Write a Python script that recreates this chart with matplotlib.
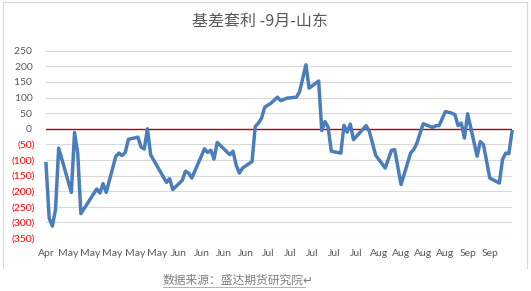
import numpy as np
import pandas as pd
import matplotlib as mpl
mpl.use('Agg')
import matplotlib.pyplot as plt
import matplotlib.dates as mdates
from matplotlib.lines import Line2D

mpl.rc('font', family=['Lato', 'Noto Sans CJK SC', 'DejaVu Sans'])

#%% data
dates = ['2017-04-24', '2017-04-25', '2017-04-26', '2017-04-27', '2017-04-28',
         '2017-05-02', '2017-05-03', '2017-05-04', '2017-05-05', '2017-05-10',
         '2017-05-11', '2017-05-12', '2017-05-13', '2017-05-16', '2017-05-17',
         '2017-05-18', '2017-05-19', '2017-05-20', '2017-05-23', '2017-05-24',
         '2017-05-25', '2017-05-26', '2017-05-27', '2017-06-01', '2017-06-02',
         '2017-06-03', '2017-06-06', '2017-06-07', '2017-06-08', '2017-06-09',
         '2017-06-13', '2017-06-14', '2017-06-15', '2017-06-16', '2017-06-17',
         '2017-06-21', '2017-06-22', '2017-06-23', '2017-06-24', '2017-06-25',
         '2017-06-28', '2017-06-29', '2017-06-30', '2017-07-01', '2017-07-02',
         '2017-07-04', '2017-07-06', '2017-07-07', '2017-07-09', '2017-07-12',
         '2017-07-13', '2017-07-15', '2017-07-16', '2017-07-19', '2017-07-20',
         '2017-07-21', '2017-07-22', '2017-07-23', '2017-07-26', '2017-07-27',
         '2017-07-28', '2017-07-29', '2017-07-30', '2017-08-03', '2017-08-04',
         '2017-08-06', '2017-08-09', '2017-08-11', '2017-08-12', '2017-08-14',
         '2017-08-17', '2017-08-18', '2017-08-19', '2017-08-21', '2017-08-24',
         '2017-08-25', '2017-08-26', '2017-08-28', '2017-08-30', '2017-08-31',
         '2017-09-01', '2017-09-02', '2017-09-03', '2017-09-04', '2017-09-07',
         '2017-09-08', '2017-09-09', '2017-09-11', '2017-09-14', '2017-09-15',
         '2017-09-16', '2017-09-17', '2017-09-18']
basis = [-112, -286, -312, -259, -62,
         -204, -12, -78, -272, -193,
         -206, -176, -204, -89, -78,
         -86, -76, -34, -27, -59,
         -65, 0, -83, -172, -160,
         -195, -165, -136, -142, -158,
         -64, -76, -69, -97, -44,
         -83, -72, -117, -142, -126,
         -105, 7, 18, 34, 69,
         82, 101, 90, 98, 101,
         119, 205, 130, 153, -6,
         23, 5, -72, -78, 11,
         -11, 15, -35, 10, -9,
         -85, -126, -69, -67, -179,
         -78, -67, -46, 16, 4,
         10, 10, 55, 50, 45,
         10, 18, -30, 48, -88,
         -41, -51, -158, -174, -99,
         -78, -80, -9]

# weekly category labels shown under the axis
xtick_dates = pd.date_range('2017-04-24', '2017-09-11', freq='7D')

yticks = list(range(-350, 251, 50))
ytick_labels = ['(350)', '(300)', '(250)', '(200)', '(150)', '(100)', '(50)',
                '0 ', '50 ', '100 ', '150 ', '200 ', '250 ']

title = '基差套利 -9月-山东'
source = '数据来源：盛达期货研究院↵'

#%% plot
x = pd.to_datetime(dates)
W, H = 531, 291
fig = plt.figure(figsize=(W / 100, H / 100), dpi=100)
ax = fig.add_axes([46 / W, 1 - 238 / H, (512 - 46) / W, (238 - 50.7) / H])

ax.plot(x, basis, color='#4A7EBB', linewidth=2.5, solid_joinstyle='round',
        zorder=3, clip_on=False)
ax.axhline(0, color='#C00000', linewidth=1, zorder=2)

ax.set_xlim(pd.Timestamp('2017-04-24'), pd.Timestamp('2017-09-18'))
ax.set_ylim(-350, 250)
ax.set_yticks(yticks)
ax.set_yticklabels(ytick_labels)
for lab, v in zip(ax.get_yticklabels(), yticks):
    lab.set_color('#FF0000' if v < 0 else '#595959')

ax.set_xticks(xtick_dates)
ax.xaxis.set_major_formatter(mdates.DateFormatter('%b'))

ax.tick_params(axis='y', length=0, pad=8, labelsize=7.5)
ax.tick_params(axis='x', length=0, pad=8, labelsize=7.5, labelcolor='#595959')
ax.grid(True, axis='y', color='#D9D9D9', linewidth=0.8, zorder=1)
ax.grid(False, axis='x')
for s in ax.spines.values():
    s.set_visible(False)

fig.text(0.49, 1 - 21.5 / H, title, ha='center', va='center', fontsize=11.5,
         color='#595959', family=['Noto Sans CJK SC', 'DejaVu Sans'])

# chart frame (left, top, right)
fc = '#D9D9D9'
fig.add_artist(Line2D([3 / W, 3 / W], [1 - 268 / H, 1 - 1.5 / H], color=fc, lw=0.8))
fig.add_artist(Line2D([3 / W, 527 / W], [1 - 1.5 / H, 1 - 1.5 / H], color=fc, lw=0.8))
fig.add_artist(Line2D([527 / W, 527 / W], [1 - 268 / H, 1 - 1.5 / H], color=fc, lw=0.8))

fig.text(163 / W, 1 - 280 / H, source, ha='left', va='center', fontsize=8.5,
         color='#7F7F7F', style='italic', family=['Noto Sans CJK SC', 'DejaVu Sans'])
fig.add_artist(Line2D([163 / W, 305 / W], [1 - 287 / H, 1 - 287 / H], color='#A6A6A6', lw=0.6))

fig.savefig('out.png', dpi=100)
